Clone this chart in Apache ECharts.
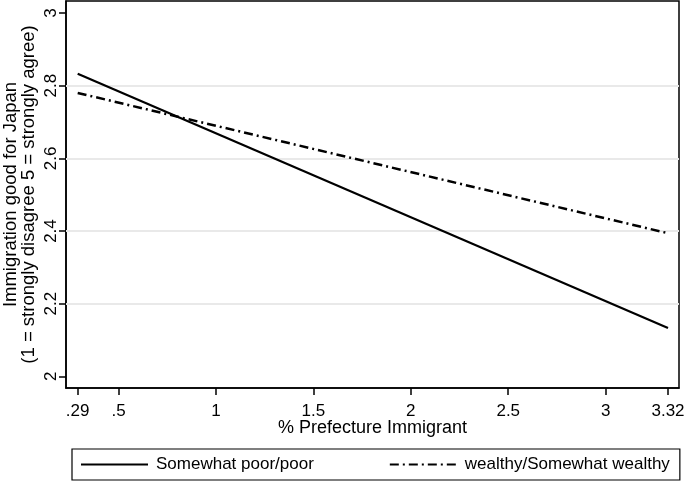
<!DOCTYPE html>
<html>
<head>
<meta charset="utf-8">
<script src="https://cdn.jsdelivr.net/npm/echarts@6/dist/echarts.min.js"></script>
<style>
html,body{margin:0;padding:0;background:#fff;}
#chart{width:685px;height:482px;}
</style>
</head>
<body>
<div id="chart"></div>
<script>
// Data
const xValues = [0.29, 3.32];
const poorValues = [2.833, 2.133];
const wealthyValues = [2.780, 2.394];
const seriesNames = ['Somewhat poor/poor', 'wealthy/Somewhat wealthy'];
const xTicks = [0.29, 0.5, 1, 1.5, 2, 2.5, 3, 3.32];
const xTickLabels = ['.29', '.5', '1', '1.5', '2', '2.5', '3', '3.32'];
const yTicks = [2, 2.2, 2.4, 2.6, 2.8, 3];
const yTickLabels = ['2', '2.2', '2.4', '2.6', '2.8', '3'];
const yGridValues = [2.2, 2.4, 2.6, 2.8];
const xTitle = '% Prefecture Immigrant';
const yTitle = 'Immigration good for Japan\n(1 = strongly disagree 5 = strongly agree)';

const FONT = '"Liberation Sans", Arial, Helvetica, sans-serif';
const chart = echarts.init(document.getElementById('chart'), null, {renderer: 'canvas'});

function lbl(ticks, labels) {
  return function (v) {
    for (let i = 0; i < ticks.length; i++) {
      if (Math.abs(ticks[i] - v) < 1e-6) return labels[i];
    }
    return '';
  };
}

const option = {
  backgroundColor: '#fff',
  animation: false,
  grid: {
    left: 66, right: 6, top: 1, bottom: 94,
    outerBoundsMode: 'none', containLabel: false,
    show: true, borderColor: '#000', borderWidth: 1.5, backgroundColor: 'transparent'
  },
  xAxis: {
    type: 'value', min: 0.23, max: 3.3765,
    name: xTitle, nameLocation: 'middle', nameGap: 31, nameMoveOverlap: false,
    nameTextStyle: {fontFamily: FONT, fontSize: 18, color: '#000'},
    axisLine: {show: true, onZero: false, lineStyle: {color: '#000', width: 1.5}},
    axisTick: {show: true, customValues: xTicks, length: 7, lineStyle: {color: '#000', width: 1.5}},
    axisLabel: {customValues: xTicks, formatter: lbl(xTicks, xTickLabels), margin: 15,
      fontFamily: FONT, fontSize: 17, color: '#000'},
    splitLine: {show: false}
  },
  yAxis: {
    type: 'value', min: 1.968, max: 3.033,
    name: yTitle, nameLocation: 'middle', nameGap: 28, nameRotate: 90, nameMoveOverlap: false,
    nameTextStyle: {fontFamily: FONT, fontSize: 18.5, color: '#000', lineHeight: 18, align: 'center'},
    axisLine: {show: true, onZero: false, lineStyle: {color: '#000', width: 1.5}},
    axisTick: {show: true, customValues: yTicks, length: 7, lineStyle: {color: '#000', width: 1.5}},
    axisLabel: {customValues: yTicks, formatter: lbl(yTicks, yTickLabels), rotate: 90, margin: 6,
      fontFamily: FONT, fontSize: 17, color: '#000'},
    splitLine: {show: false}
  },
  legend: {
    show: true,
    bottom: 2, left: 72,
    orient: 'horizontal',
    borderColor: '#000', borderWidth: 1.2,
    padding: [7, 10, 7, 8],
    itemGap: 75, itemWidth: 67, itemHeight: 14,
    itemStyle: {opacity: 0},
    textStyle: {fontFamily: FONT, fontSize: 17, color: '#000', padding: [0, 0, 0, 3]},
    data: seriesNames
  },
  series: [
    {
      name: seriesNames[0], type: 'line', symbol: 'none',
      data: xValues.map((x, i) => [x, poorValues[i]]),
      lineStyle: {color: '#000', width: 2.2, type: 'solid'},
      itemStyle: {color: '#000'},
      z: 5,
      markLine: {
        silent: true, symbol: 'none', label: {show: false},
        lineStyle: {color: '#e9e9e9', width: 2, type: 'solid'},
        data: yGridValues.map(v => ({yAxis: v}))
      }
    },
    {
      name: seriesNames[1], type: 'line', symbol: 'none',
      data: xValues.map((x, i) => [x, wealthyValues[i]]),
      lineStyle: {color: '#000', width: 2.5, type: [9, 4, 2, 4]},
      itemStyle: {color: '#000'},
      z: 5
    }
  ]
};
chart.setOption(option);
</script>
</body>
</html>
